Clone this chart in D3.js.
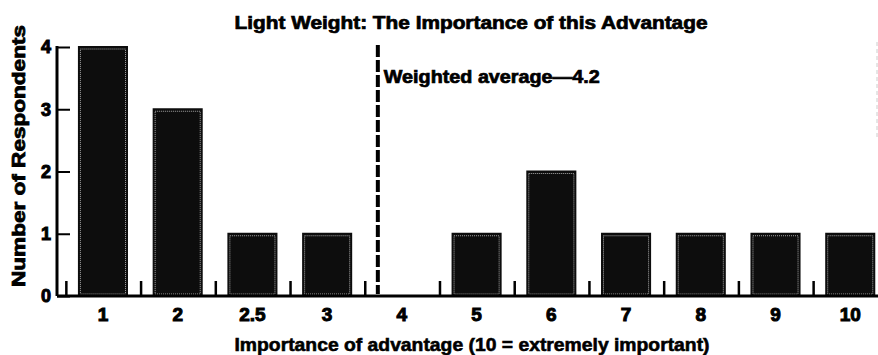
<!DOCTYPE html>
<html>
<head>
<meta charset="utf-8">
<script src="https://cdn.jsdelivr.net/npm/d3@7"></script>
<style>
  html, body { margin: 0; padding: 0; background: #fff; }
  svg text { font-family: "Liberation Sans", Arial, sans-serif; font-weight: bold; fill: #000; }
</style>
</head>
<body>
<div id="chart"></div>
<script>
// chart data
const categories = ["1", "2", "2.5", "3", "4", "5", "6", "7", "8", "9", "10"];
const respondents = [4, 3, 1, 1, 0, 1, 2, 1, 1, 1, 1];
const yTicks = [0, 1, 2, 3, 4];
const averageCategory = "4";
const averageLabel = "Weighted average\u20144.2";

const width = 878, height = 355;

const svg = d3.select("#chart").append("svg")
  .attr("width", width)
  .attr("height", height);

// scales
const xScale = d3.scaleBand()
  .domain(categories)
  .range([65.6, 887.6])
  .paddingInner(0.33)
  .paddingOuter(0.165);

const yScale = d3.scaleLinear()
  .domain([0, 4])
  .range([296, 47]);

const axisX = 57;
const gap = xScale.step() - xScale.bandwidth();

// title
svg.append("text")
  .attr("x", 471)
  .attr("y", 29)
  .attr("text-anchor", "middle")
  .attr("font-size", 18)
  .attr("stroke", "#000").attr("stroke-width", 0.7)
  .attr("textLength", 473)
  .attr("lengthAdjust", "spacingAndGlyphs")
  .text("Light Weight: The Importance of this Advantage");

// bars
const bars = svg.append("g");
categories.forEach((c, i) => {
  const v = respondents[i];
  if (v <= 0) return;
  const x = xScale(c), y = yScale(v), w = xScale.bandwidth(), h = yScale(0) - yScale(v);
  bars.append("rect")
    .attr("x", x).attr("y", y - 1).attr("width", w).attr("height", h + 1)
    .attr("fill", "#0d0d0d");
  bars.append("rect")
    .attr("x", x + 2.5).attr("y", y + 2).attr("width", w - 5).attr("height", h - 4)
    .attr("fill", "none")
    .attr("stroke", "#a8a8a8")
    .attr("stroke-width", 1)
    .attr("stroke-dasharray", "1,1");
});

// small ticks between bars
svg.append("g").selectAll("rect")
  .data(categories)
  .join("rect")
  .attr("x", d => xScale(d) - gap / 2 - 0.5)
  .attr("y", yScale(0) - 15)
  .attr("width", 2.5)
  .attr("height", 15)
  .attr("fill", "#000");

// baseline
svg.append("line")
  .attr("x1", axisX).attr("x2", width)
  .attr("y1", yScale(0)).attr("y2", yScale(0))
  .attr("stroke", "#000").attr("stroke-width", 3);

// y axis
const yAxis = svg.append("g")
  .attr("transform", `translate(${axisX},0)`)
  .call(d3.axisLeft(yScale).tickValues(yTicks).tickFormat(d3.format("d")).tickSize(-13).tickPadding(6));
yAxis.select(".domain").remove();
yAxis.selectAll(".tick line").attr("stroke", "#000").attr("stroke-width", 2);
yAxis.selectAll(".tick text")
  .attr("font-size", 18)
  .attr("font-family", null)
  .attr("stroke", "#000").attr("stroke-width", 1);
yAxis.append("line")
  .attr("x1", 0).attr("x2", 0)
  .attr("y1", yScale(4) - 1).attr("y2", yScale(0))
  .attr("stroke", "#000").attr("stroke-width", 3);

// x labels
svg.append("g").selectAll("text")
  .data(categories)
  .join("text")
  .attr("x", d => xScale(d) + xScale.bandwidth() / 2)
  .attr("y", 321)
  .attr("text-anchor", "middle")
  .attr("font-size", 19)
  .attr("stroke", "#000").attr("stroke-width", 1)
  .text(d => d);

// weighted average line
const avgX = xScale(averageCategory) + 1;
svg.append("line")
  .attr("x1", avgX).attr("x2", avgX)
  .attr("y1", yScale(4) - 2).attr("y2", yScale(0) - 2)
  .attr("stroke", "#000")
  .attr("stroke-width", 4)
  .attr("stroke-dasharray", "12,3");

svg.append("text")
  .attr("x", avgX + 6)
  .attr("y", 83)
  .attr("font-size", 18)
  .attr("font-weight", "normal")
  .attr("stroke", "#000")
  .attr("stroke-width", 0.7)
  .attr("textLength", 216)
  .attr("lengthAdjust", "spacingAndGlyphs")
  .text(averageLabel);

// axis titles
svg.append("text")
  .attr("transform", `translate(25,156) rotate(-90)`)
  .attr("text-anchor", "middle")
  .attr("font-size", 18)
  .attr("stroke", "#000").attr("stroke-width", 0.8)
  .attr("textLength", 262)
  .attr("lengthAdjust", "spacingAndGlyphs")
  .text("Number of Respondents");

svg.append("text")
  .attr("x", 472)
  .attr("y", 351)
  .attr("text-anchor", "middle")
  .attr("font-size", 19)
  .attr("stroke", "#000").attr("stroke-width", 0.6)
  .attr("textLength", 475)
  .attr("lengthAdjust", "spacingAndGlyphs")
  .text("Importance of advantage (10 = extremely important)");

// faint scan mark at right edge
svg.append("line")
  .attr("x1", 877).attr("x2", 877)
  .attr("y1", 42).attr("y2", 140)
  .attr("stroke", "#ccc").attr("stroke-width", 1)
  .attr("stroke-dasharray", "4,3");
</script>
</body>
</html>
